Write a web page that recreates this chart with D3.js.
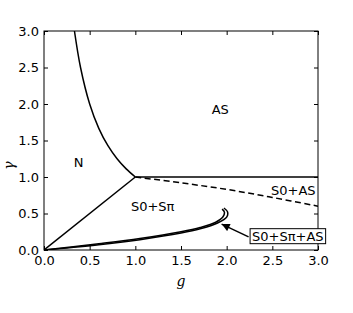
<!DOCTYPE html>
<html>
<head>
<meta charset="utf-8">
<script src="https://cdn.jsdelivr.net/npm/d3@7"></script>
<style>
  body { margin: 0; background: #fff; }
  svg text { font-family: "DejaVu Sans", sans-serif; }
</style>
</head>
<body>
<svg id="chart" width="353" height="313"></svg>
<script>
"use strict";
// phase boundaries, [g, gamma]
const xTicks = [0, 0.5, 1.0, 1.5, 2.0, 2.5, 3.0];
const yTicks = [0, 0.5, 1.0, 1.5, 2.0, 2.5, 3.0];
const hyperbola = [1/3, 0.4, 0.5, 0.6, 0.7, 0.8, 0.9, 1.0].map(g => [g, 1 / g]);
const diagonal = [[0, 0], [1, 1]];
const flatLine = [[1, 1], [3, 1]];
const dashed = [[1, 1], [1.5, 0.92], [2, 0.83], [2.5, 0.72], [3, 0.60]];
const lensLower = [[0, 0], [0.6, 0.072], [1.05, 0.142], [1.5, 0.232], [1.71, 0.29], [1.9, 0.37], [2.0, 0.45], [2.01, 0.52], [1.97, 0.575]];
const lensUpper = [[0, 0], [0.6, 0.086], [1.05, 0.158], [1.5, 0.25], [1.71, 0.308], [1.88, 0.38], [1.96, 0.455], [1.975, 0.52], [1.95, 0.56]];
const labels = [
    {text: "AS", g: 1.93, y: 1.93},
    {text: "N", g: 0.38, y: 1.2},
    {text: "S0+S\u03c0", g: 1.19, y: 0.59},
    {text: "S0+AS", g: 2.73, y: 0.81}
];
const boxLabel = {text: "S0+S\u03c0+AS", g: 2.67, y: 0.19};
const arrowFrom = [2.24, 0.18];
const arrowTo = [1.945, 0.355];

const margin = {top: 31, right: 35, bottom: 63, left: 44},
    width = 353 - margin.left - margin.right,
    height = 313 - margin.top - margin.bottom;

const x = d3.scaleLinear().domain([0, 3]).range([0, width]);
const y = d3.scaleLinear().domain([0, 3]).range([height, 0]);

const svg = d3.select("#chart");
const defs = svg.append("defs");
defs.append("clipPath").attr("id", "plot-clip")
    .append("rect").attr("width", width).attr("height", height);

const g = svg.append("g")
    .attr("transform", "translate(" + margin.left + "," + margin.top + ")");

const line = d3.line().x(d => x(d[0])).y(d => y(d[1]));
const smooth = d3.line().x(d => x(d[0])).y(d => y(d[1])).curve(d3.curveCatmullRom);

const plot = g.append("g").attr("clip-path", "url(#plot-clip)");
plot.append("path").attr("d", smooth(hyperbola));
plot.append("path").attr("d", line(diagonal));
plot.append("path").attr("d", line(flatLine));
plot.append("path").attr("d", smooth(dashed)).attr("stroke-dasharray", "6,3.5");
plot.append("path").attr("d", smooth(lensLower));
plot.append("path").attr("d", smooth(lensUpper));
plot.selectAll("path")
    .attr("fill", "none")
    .attr("stroke", "#000")
    .attr("stroke-width", 1.5);

// axes: ticks pointing inward on all sides
const tickLen = 4;
g.append("g").attr("transform", "translate(0," + height + ")")
    .call(d3.axisBottom(x).tickValues(xTicks).tickSizeInner(-tickLen).tickSizeOuter(0).tickPadding(6).tickFormat(d3.format(".1f")));
g.append("g")
    .call(d3.axisTop(x).tickValues(xTicks).tickSizeInner(-tickLen).tickSizeOuter(0).tickFormat(""));
g.append("g")
    .call(d3.axisLeft(y).tickValues(yTicks).tickSizeInner(-tickLen).tickSizeOuter(0).tickPadding(5).tickFormat(d3.format(".1f")));
g.append("g").attr("transform", "translate(" + width + ",0)")
    .call(d3.axisRight(y).tickValues(yTicks).tickSizeInner(-tickLen).tickSizeOuter(0).tickFormat(""));
g.selectAll(".domain").remove();
g.selectAll(".tick line").attr("stroke", "#000");
g.selectAll(".tick text").attr("font-size", 13).attr("fill", "#000")
    .attr("font-family", "DejaVu Sans, sans-serif");

g.append("rect")
    .attr("width", width).attr("height", height)
    .attr("fill", "none").attr("stroke", "#000").attr("stroke-width", 1);

// axis titles
g.append("text")
    .attr("x", width / 2).attr("y", height + 36)
    .attr("text-anchor", "middle")
    .style("font-family", "DejaVu Serif, serif").style("font-style", "italic")
    .attr("font-size", 14)
    .text("g");
g.append("text")
    .attr("transform", "translate(" + (-30) + "," + (height / 2 + 25) + ") rotate(-90)")
    .attr("text-anchor", "middle")
    .style("font-family", "DejaVu Serif, serif").style("font-style", "italic")
    .attr("font-size", 14)
    .text("\u03b3");

// region labels
g.selectAll(".region")
    .data(labels)
    .enter().append("text")
    .attr("class", "region")
    .attr("x", d => x(d.g)).attr("y", d => y(d.y))
    .attr("dy", "0.35em")
    .attr("text-anchor", "middle")
    .attr("font-size", 13)
    .text(d => d.text);

// arrow
defs.append("marker")
    .attr("id", "head").attr("viewBox", "0 0 10 10")
    .attr("refX", 10).attr("refY", 5)
    .attr("markerWidth", 10).attr("markerHeight", 8)
    .attr("markerUnits", "userSpaceOnUse")
    .attr("orient", "auto")
    .append("path").attr("d", "M0,0L10,5L0,10z").attr("fill", "#000");
g.append("line")
    .attr("x1", x(arrowFrom[0])).attr("y1", y(arrowFrom[1]))
    .attr("x2", x(arrowTo[0])).attr("y2", y(arrowTo[1]))
    .attr("stroke", "#000").attr("stroke-width", 1.5)
    .attr("marker-end", "url(#head)");

// boxed annotation
const bl = g.append("g");
const bt = bl.append("text")
    .attr("x", x(boxLabel.g)).attr("y", y(boxLabel.y))
    .attr("text-anchor", "middle").attr("dy", "0.35em")
    .attr("font-size", 13)
    .text(boxLabel.text);
const bb = bt.node().getBBox();
bl.insert("rect", "text")
    .attr("x", bb.x - 2).attr("y", bb.y)
    .attr("width", bb.width + 4).attr("height", bb.height)
    .attr("fill", "#fff").attr("stroke", "#000").attr("stroke-width", 1);
</script>
</body>
</html>
